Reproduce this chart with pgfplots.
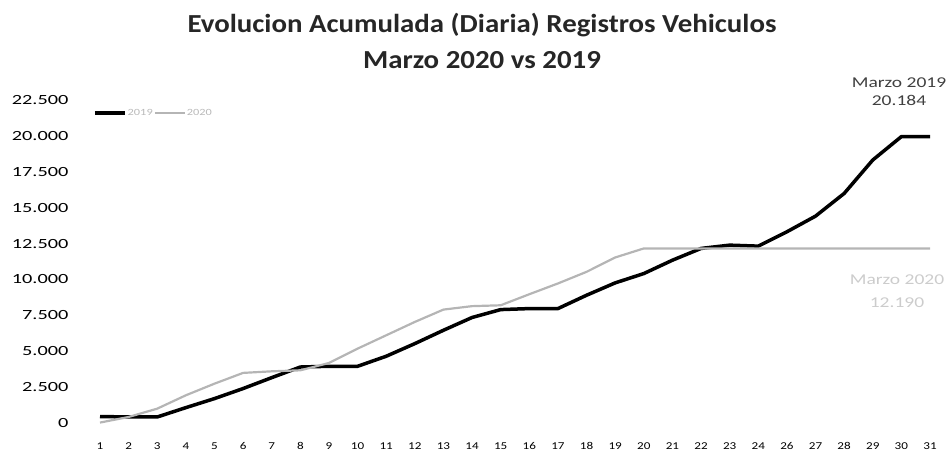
\documentclass[border=0pt]{standalone}
\usepackage{fontspec}
\setmainfont{Carlito}
\newfontfamily\titlefont[FakeStretch=1.11]{Carlito}
\newfontfamily\ytickfont[FakeStretch=1.45]{Carlito}
\newfontfamily\xtickfont[FakeStretch=1.25]{Carlito}
\newfontfamily\annfont[FakeStretch=1.3]{Carlito}
\newfontfamily\legfont[FakeStretch=1.3]{Carlito}
\usepackage{pgfplots}
\pgfplotsset{compat=1.18}
\definecolor{gray20}{HTML}{B5B5B5}
\begin{document}
\begin{tikzpicture}[x=1pt,y=1pt]
\useasboundingbox (0,0) rectangle (950,455);
\begin{axis}[
  at={(100pt,32pt)}, anchor=south west,
  scale only axis, width=830pt, height=323pt,
  xmin=0, xmax=29, ymin=0, ymax=22500,
  clip=false, scaled y ticks=false,
  axis line style={draw=none}, tick style={draw=none},
  xtick={0,...,29},
  xticklabels={1,2,3,4,5,6,7,8,9,10,11,12,13,14,15,16,17,18,19,20,21,22,23,24,26,27,28,29,30,31},
  xticklabel style={font=\xtickfont\fontsize{10.5}{11}\selectfont, anchor=base, yshift=-26pt},
  ytick={0,2500,5000,7500,10000,12500,15000,17500,20000,22500},
  yticklabels={0,2.500,5.000,7.500,10.000,12.500,15.000,17.500,20.000,22.500},
  yticklabel style={font=\ytickfont\fontsize{14}{15}\selectfont, xshift=-28pt},
  legend style={draw=none, fill=none, at={(axis description cs:-0.0084,0.96)}, anchor=west, legend columns=2,
    font=\legfont\fontsize{9.5}{11}\selectfont\color{gray!55},
    inner sep=0pt, nodes={inner xsep=1pt},
    /tikz/every even column/.append style={column sep=0pt}},
  legend cell align=left,
  legend image code/.code={\draw[#1] (0pt,0pt) -- (30pt,0pt);},
]
\addplot[black, line width=3.5pt, line join=round] coordinates {
(0,450)(1,420)(2,420)(3,1070)(4,1700)(5,2400)(6,3160)(7,3900)(8,3950)(9,3950)
(10,4650)(11,5530)(12,6460)(13,7350)(14,7900)(15,7970)(16,7970)(17,8900)(18,9760)(19,10410)
(20,11340)(21,12160)(22,12390)(23,12320)(24,13320)(25,14410)(26,15990)(27,18320)(28,19950)(29,19950)};
\addlegendentry{2019}
\addplot[gray20, line width=2.2pt, line join=round] coordinates {
(0,30)(1,420)(2,1000)(3,1930)(4,2740)(5,3490)(6,3600)(7,3670)(8,4180)(9,5180)
(10,6110)(11,7040)(12,7900)(13,8140)(14,8200)(15,8970)(16,9720)(17,10530)(18,11530)(19,12160)
(20,12160)(21,12160)(22,12160)(23,12160)(24,12160)(25,12160)(26,12160)(27,12160)(28,12160)(29,12160)};
\addlegendentry{2020}
\end{axis}
\node[font=\titlefont\bfseries\fontsize{26}{28}\selectfont, text=black!85] at (482,430) {Evolucion Acumulada (Diaria) Registros Vehiculos};
\node[font=\titlefont\bfseries\fontsize{26}{28}\selectfont, text=black!85] at (482,395) {Marzo 2020 vs 2019};
\node[font=\annfont\fontsize{15}{16}\selectfont, text=black!75] at (899,372) {Marzo 2019};
\node[font=\annfont\fontsize{15}{16}\selectfont, text=black!75] at (899,355) {20.184};
\node[font=\annfont\fontsize{15}{16}\selectfont, text=gray!40] at (897,175) {Marzo 2020};
\node[font=\annfont\fontsize{15}{16}\selectfont, text=gray!40] at (897,152) {12.190};
\end{tikzpicture}
\end{document}
